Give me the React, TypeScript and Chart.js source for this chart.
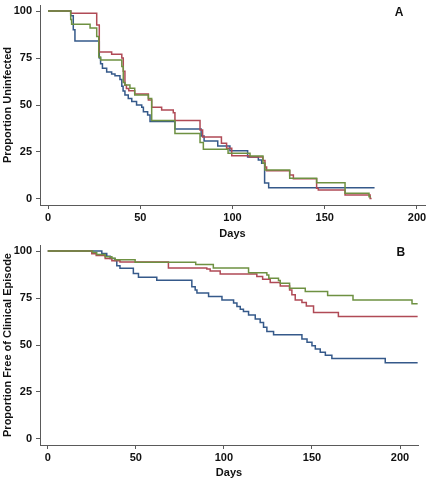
import React, { useEffect, useRef } from "react";
import { Chart, registerables } from "chart.js";
Chart.register(...registerables);

// ---------- Panel A : Proportion Uninfected ----------
const aBlueDays = [0, 12.3, 13.7, 14.6, 27.8, 28.5, 29.5, 31.8, 34.5, 36.3, 39, 40, 40.7, 41.7, 43.5, 45.4, 48, 50.8, 51.7, 54, 55.3, 68.8, 83, 84.6, 92, 98.6, 108.2, 114, 115.8, 117.4, 119.6, 177];
const aBlueVals = [100, 97.5, 90, 84, 75, 72, 69.5, 67.5, 66.5, 65.5, 63.5, 60, 57.5, 55.3, 53.5, 51.8, 50, 48.8, 46.4, 44.7, 41.2, 37.2, 33.5, 30.8, 28.2, 25.7, 22.4, 20.8, 19, 8.5, 6, 6];

const aRedDays = [0, 12.3, 26.4, 27.8, 34.5, 40, 40.8, 41.7, 42.5, 43.8, 47, 54.4, 56.2, 61.6, 67.9, 68.8, 82.4, 83.8, 94, 96.8, 99.6, 109, 116.5, 117.6, 118.5, 131, 133, 145.6, 146.5, 161, 174.6, 175.4];
const aRedVals = [100, 98.8, 92.6, 78.2, 77, 75, 68, 60.5, 58.8, 57.6, 55.9, 52.6, 48.8, 47.3, 45.9, 41.7, 36.7, 33, 29.6, 27, 23, 22.4, 20.5, 17, 15, 12.8, 10.8, 5.7, 4.8, 2.1, 0.3, 0.3];

const aGreenDays = [0, 12.3, 12.8, 22.8, 26.4, 27.5, 28.5, 40, 40.8, 41.7, 44.4, 47, 54.4, 56.2, 68.8, 82.4, 84.2, 97.6, 109.5, 116.5, 117.6, 131, 145.6, 161, 174, 175];
const aGreenVals = [100, 95.5, 92.9, 91, 86.5, 75.5, 74, 70.5, 62, 60.6, 58.9, 55.3, 53.5, 41.7, 34.9, 30, 26.4, 24.3, 22.9, 19, 15.4, 11, 8.7, 3, 1.2, 1.2];

// ---------- Panel B : Proportion Free of Clinical Episode ----------
const bBlueDays = [0, 30.7, 33.5, 35.4, 38.2, 39.2, 41, 48.6, 51.5, 61.9, 81.8, 83.7, 84.7, 91.3, 98.9, 105.5, 107.4, 109.3, 111.1, 114, 117.8, 120.6, 122.5, 124.4, 128.2, 144.3, 147.2, 150, 151.9, 154.7, 157.6, 161.3, 191.6, 210];
const bBlueVals = [100, 98.7, 97.2, 96, 95, 92.2, 90.8, 88.1, 86, 84.4, 81, 79.3, 77.6, 75.8, 74, 72.3, 70.5, 69, 67.8, 66, 63.8, 62, 59.5, 57.2, 55.5, 53.2, 51.4, 49.6, 47.9, 46.2, 44.6, 42.8, 40.5, 40.5];

const bRedDays = [0, 25, 27.5, 32.6, 36.4, 41, 68.5, 90.3, 92.2, 97.9, 118.7, 122, 126.3, 132, 137.3, 138.6, 140.5, 144.3, 146.8, 150.9, 165, 210];
const bRedVals = [100, 98.6, 97.6, 96, 94.8, 94.2, 91, 90.4, 89.4, 87.8, 86.4, 85, 83.2, 81.4, 79.3, 76.7, 74, 72.6, 70.8, 67.3, 65.2, 65.2];

const bGreenDays = [0, 25.5, 27.8, 32.6, 36.4, 38.2, 49.6, 84, 94, 114, 124.4, 125.5, 131, 132, 137.3, 146.2, 158.9, 173.3, 206.8, 210];
const bGreenVals = [100, 99.2, 98.2, 97, 96.1, 95.4, 94, 92.8, 91, 88.5, 87.3, 85.5, 84.3, 82.9, 80.2, 78.4, 76.4, 74, 71.9, 71.9];

const xTickValues = [0, 50, 100, 150, 200];
const yTickValues = [0, 25, 50, 75, 100];

const BLUE = "#35598a";
const RED = "#b04a56";
const GREEN = "#6e9142";
const AXIS = "#5a5a5a";
const TEXT = "#111111";
const FONT = "'Liberation Sans', Arial, sans-serif";

const panelLabel = {
  id: "panelLabel",
  afterDraw(chart: any, _args: any, opts: any) {
    const { ctx, scales } = chart;
    ctx.save();
    ctx.font = `bold 12px ${FONT}`;
    ctx.fillStyle = TEXT;
    ctx.textAlign = "center";
    ctx.textBaseline = "middle";
    ctx.fillText(opts.text, scales.x.getPixelForValue(opts.x), scales.y.getPixelForValue(opts.y));
    ctx.restore();
  },
};

function pts(days: number[], vals: number[]) {
  return days.map((d, i) => ({ x: d, y: vals[i] }));
}

function makeConfig(p: any): any {
  const ds = (label: string, days: number[], vals: number[], color: string) => ({
    label,
    data: pts(days, vals),
    borderColor: color,
    backgroundColor: color,
    borderWidth: 1.5,
    pointRadius: 0,
    stepped: true,
    fill: false,
  });
  return {
    type: "line",
    data: {
      datasets: [
        ds("Green", p.green[0], p.green[1], GREEN),
        ds("Red", p.red[0], p.red[1], RED),
        ds("Blue", p.blue[0], p.blue[1], BLUE),
      ],
    },
    plugins: [panelLabel],
    options: {
      animation: false,
      responsive: false,
      maintainAspectRatio: false,
      layout: { padding: { left: 1, right: p.padRight, top: p.padTop, bottom: 0 } },
      plugins: {
        legend: { display: false },
        tooltip: { enabled: false },
        panelLabel: { text: p.label, x: p.labelX, y: 99 },
      },
      scales: {
        x: {
          type: "linear",
          min: p.xMin,
          max: p.xMax,
          afterBuildTicks: (s: any) => {
            s.ticks = xTickValues.map((v) => ({ value: v }));
          },
          afterFit: (s: any) => {
            s.height = p.xHeight;
            s.paddingLeft = 0;
            s.paddingRight = 0;
            s.paddingTop = 0;
            s.paddingBottom = 0;
          },
          grid: { drawOnChartArea: false, drawTicks: true, tickLength: 4, color: AXIS, lineWidth: 1 },
          border: { display: true, color: AXIS, width: 1 },
          ticks: { color: TEXT, padding: 2, maxRotation: 0, font: { family: FONT, size: 11, weight: "bold" } },
          title: { display: true, text: "Days", color: TEXT, padding: 0, font: { family: FONT, size: 11, weight: "bold" } },
        },
        y: {
          type: "linear",
          min: -3.2,
          max: 103.2,
          afterBuildTicks: (s: any) => {
            s.ticks = yTickValues.map((v) => ({ value: v }));
          },
          afterFit: (s: any) => {
            s.width = 39;
            s.paddingLeft = 0;
            s.paddingRight = 0;
            s.paddingTop = 0;
            s.paddingBottom = 0;
          },
          grid: { drawOnChartArea: false, drawTicks: true, tickLength: 4, color: AXIS, lineWidth: 1 },
          border: { display: true, color: AXIS, width: 1 },
          ticks: { color: TEXT, padding: 4, font: { family: FONT, size: 11, weight: "bold" } },
          title: { display: true, text: p.yTitle, color: TEXT, padding: 0, font: { family: FONT, size: 11, weight: "bold" } },
        },
      },
    },
  };
}

function Panel(props: { cfg: any; top: number; height: number }) {
  const ref = useRef<HTMLCanvasElement | null>(null);
  useEffect(() => {
    if (!ref.current) return;
    const chart = new Chart(ref.current, makeConfig(props.cfg));
    return () => chart.destroy();
  }, []);
  return (
    <canvas
      ref={ref}
      width={430}
      height={props.height}
      style={{ position: "absolute", left: 0, top: props.top, width: 430, height: props.height, display: "block" }}
    />
  );
}

export default function App() {
  const cfgA = {
    blue: [aBlueDays, aBlueVals],
    red: [aRedDays, aRedVals],
    green: [aGreenDays, aGreenVals],
    yTitle: "Proportion Uninfected",
    label: "A",
    labelX: 190.3,
    xMin: -4.34,
    xMax: 204.34,
    padTop: 5,
    padRight: 5,
    xHeight: 36,
  };
  const cfgB = {
    blue: [bBlueDays, bBlueVals],
    red: [bRedDays, bRedVals],
    green: [bGreenDays, bGreenVals],
    yTitle: "Proportion Free of Clinical Episode",
    label: "B",
    labelX: 200.5,
    xMin: -4.4,
    xMax: 210.2,
    padTop: 4,
    padRight: 12,
    xHeight: 35,
  };
  return (
    <div style={{ position: "absolute", left: 0, top: 0, width: 430, height: 482, background: "#ffffff" }}>
      <Panel cfg={cfgA} top={0} height={241} />
      <Panel cfg={cfgB} top={241} height={239} />
    </div>
  );
}
